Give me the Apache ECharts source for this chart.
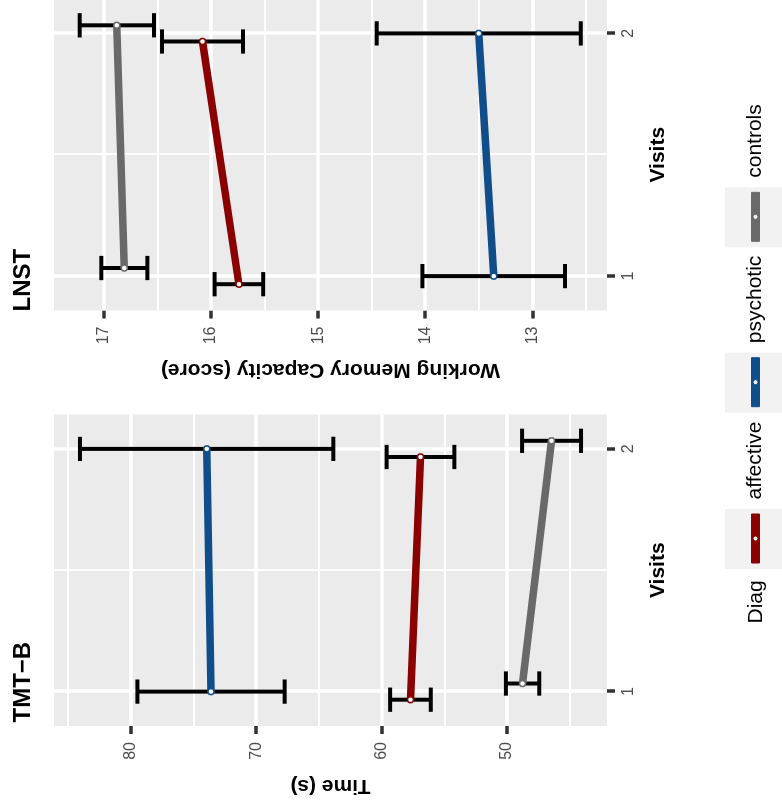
<!DOCTYPE html>
<html>
<head>
<meta charset="utf-8">
<script src="https://cdn.jsdelivr.net/npm/echarts@6/dist/echarts.min.js"></script>
<style>
  html, body { margin: 0; padding: 0; background: #fff; overflow: hidden; width: 782px; height: 808px; }
  /* the figure is laid out landscape and turned a quarter turn counter-clockwise */
  #stage { position: absolute; left: 0; top: 0; width: 808px; height: 782px;
           transform-origin: 0 0; transform: translateY(808px) rotate(-90deg); }
</style>
</head>
<body>
<div id="stage"></div>
<script>
// ---- data ----
const visits = [1, 2];
const diagnoses = ['affective', 'psychotic', 'controls'];
const diagColors = ['#8B0000', '#104E8B', '#696969'];

// TMT-B completion time (s): mean and standard error per visit
const tmtbAffectiveMean = [57.7, 56.9];
const tmtbAffectiveSE   = [1.62, 2.7];
const tmtbPsychoticMean = [73.6, 73.95];
const tmtbPsychoticSE   = [5.87, 10.1];
const tmtbControlsMean  = [48.76, 46.45];
const tmtbControlsSE    = [1.33, 2.35];

// LNST working memory capacity (score): mean and standard error per visit
const lnstAffectiveMean = [15.74, 16.08];
const lnstAffectiveSE   = [0.227, 0.378];
const lnstPsychoticMean = [13.36, 13.50];
const lnstPsychoticSE   = [0.666, 0.953];
const lnstControlsMean  = [16.81, 16.88];
const lnstControlsSE    = [0.215, 0.347];

// axis breaks
const tmtbTicks = [50, 60, 70, 80];
const tmtbMinorTicks = [45, 55, 65, 75, 85];
const lnstTicks = [13, 14, 15, 16, 17];
const lnstMinorTicks = [12.5, 13.5, 14.5, 15.5, 16.5];
const visitMinorTicks = [1.5];

// ---- layout / style ----
const FONT = '"Liberation Sans", Arial, Helvetica, sans-serif';
const dodgeWidth = 0.1;                       // groups spread across this width
const dodge = diagnoses.map((d, i) => (i - 1) * dodgeWidth / 3);
const capWidth = 0.1;                         // error bar cap width, in visit units
const visitRange = [0.8583, 2.1417];

const series = [];

function gridLines(p, major, minor) {
  const items = [];
  minor.forEach(v => items.push({ yAxis: v, lineStyle: { width: 1.8 } }));
  major.forEach(v => items.push({ yAxis: v, lineStyle: { width: 3.5 } }));
  visitMinorTicks.forEach(v => items.push({ xAxis: v, lineStyle: { width: 1.8 } }));
  visits.forEach(v => items.push({ xAxis: v, lineStyle: { width: 3.5 } }));
  series.push({
    type: 'line', xAxisIndex: p, yAxisIndex: p, data: [], silent: true, z: 1,
    markLine: {
      z: 1, silent: true, symbol: ['none', 'none'], animation: false,
      label: { show: false }, emphasis: { disabled: true },
      lineStyle: { color: '#FFFFFF', type: 'solid' },
      data: items
    }
  });
}

function panel(p, means, ses) {
  const bars = [];
  diagnoses.forEach((d, i) => {
    series.push({
      type: 'line', name: d, xAxisIndex: p, yAxisIndex: p, z: 6,
      data: visits.map((v, k) => [v + dodge[i], means[i][k]]),
      symbol: 'circle', symbolSize: 6, showSymbol: true,
      lineStyle: { color: diagColors[i], width: 7.5 },
      itemStyle: { color: '#FFFFFF', borderColor: diagColors[i], borderWidth: 1.5 },
      emphasis: { disabled: true }, silent: true
    });
    visits.forEach((v, k) => {
      bars.push([v + dodge[i], means[i][k] - ses[i][k], means[i][k] + ses[i][k]]);
    });
  });
  series.push({
    type: 'custom', xAxisIndex: p, yAxisIndex: p, z: 5, silent: true,
    dimensions: ['x', 'lo', 'hi'],
    encode: { x: 0, y: [1, 2] },
    data: bars,
    renderItem: function (params, api) {
      const x = api.value(0), lo = api.value(1), hi = api.value(2);
      const a = api.coord([x, lo]);
      const b = api.coord([x, hi]);
      const half = api.coord([x + capWidth / 2, lo])[0] - a[0];
      const st = () => ({ stroke: '#000000', lineWidth: 4, fill: null });
      return {
        type: 'group',
        children: [
          { type: 'line', shape: { x1: a[0], y1: a[1], x2: b[0], y2: b[1] }, style: st() },
          { type: 'line', shape: { x1: a[0] - half, y1: a[1], x2: a[0] + half, y2: a[1] }, style: st() },
          { type: 'line', shape: { x1: b[0] - half, y1: b[1], x2: b[0] + half, y2: b[1] }, style: st() }
        ]
      };
    }
  });
}

gridLines(0, tmtbTicks, tmtbMinorTicks);
gridLines(1, lnstTicks, lnstMinorTicks);
panel(0, [tmtbAffectiveMean, tmtbPsychoticMean, tmtbControlsMean],
         [tmtbAffectiveSE, tmtbPsychoticSE, tmtbControlsSE]);
panel(1, [lnstAffectiveMean, lnstPsychoticMean, lnstControlsMean],
         [lnstAffectiveSE, lnstPsychoticSE, lnstControlsSE]);

function visitAxis(p) {
  return {
    type: 'value', gridIndex: p, min: visitRange[0], max: visitRange[1],
    axisLine: { show: false },
    axisTick: { show: true, length: 8, customValues: visits, lineStyle: { color: '#333333', width: 3.5 } },
    axisLabel: { customValues: visits, margin: 14, fontSize: 16, color: '#4D4D4D', fontFamily: FONT },
    splitLine: { show: false },
    name: 'Visits', nameLocation: 'middle', nameGap: 41,
    nameTextStyle: { fontSize: 21, fontWeight: 'bold', color: '#000000', fontFamily: FONT }
  };
}

function valueAxis(p, min, max, ticks, title) {
  return {
    type: 'value', gridIndex: p, min: min, max: max,
    axisLine: { show: false },
    axisTick: { show: true, length: 8, customValues: ticks, lineStyle: { color: '#333333', width: 3.5 } },
    axisLabel: { customValues: ticks, margin: 16, fontSize: 16, color: '#4D4D4D', fontFamily: FONT },
    splitLine: { show: false },
    name: title, nameLocation: 'middle', nameRotate: 90, nameGap: 49,
    nameTextStyle: { fontSize: 21, fontWeight: 'bold', color: '#000000', fontFamily: FONT }
  };
}

// legend keys: grey key boxes with each series' line
const keyIcon = 'path://M0,0h0.01v0.01h-0.01z M59.99,59.99h0.01v0.01h-0.01z ' +
                'M5.5,26H54.5V34H5.5Z M30,27.5a2.5,2.5 0 1,0 0,5a2.5,2.5 0 1,0 0,-5z';
const keyLeft = [239, 395.3, 560.7];
const keyTop = 725, keySize = 60;

const legends = diagnoses.map((d, i) => ({
  data: [{ name: d, icon: keyIcon, itemStyle: { color: diagColors[i], borderColor: diagColors[i], borderWidth: 1 } }],
  left: keyLeft[i], top: keyTop, padding: 0, orient: 'horizontal',
  itemWidth: keySize, itemHeight: keySize, selectedMode: false, z: 5,
  textStyle: { fontSize: 21, color: '#000000', fontFamily: FONT, padding: [5, 0, 0, 4] }
}));

const chart = echarts.init(document.getElementById('stage'), null, { renderer: 'canvas', width: 808, height: 782 });
chart.setOption({
  animation: false,
  backgroundColor: '#FFFFFF',
  textStyle: { fontFamily: FONT },
  title: [
    { text: 'TMT\u2212B', left: 85.5, top: 11, padding: 0,
      textStyle: { fontSize: 24, fontWeight: 'bold', color: '#000000', fontFamily: FONT } },
    { text: 'LNST', left: 496.5, top: 11, padding: 0,
      textStyle: { fontSize: 24, fontWeight: 'bold', color: '#000000', fontFamily: FONT } }
  ],
  grid: [
    { left: 82, top: 54, width: 311.5, height: 553, show: true, backgroundColor: '#EBEBEB',
      borderWidth: 0, containLabel: false, outerBoundsMode: 'none' },
    { left: 497.5, top: 54, width: 311.5, height: 553, show: true, backgroundColor: '#EBEBEB',
      borderWidth: 0, containLabel: false, outerBoundsMode: 'none' }
  ],
  xAxis: [visitAxis(0), visitAxis(1)],
  yAxis: [
    valueAxis(0, 42.03, 86.12, tmtbTicks, 'Time (s)'),
    valueAxis(1, 12.302, 17.467, lnstTicks, 'Working Memory Capacity (score)')
  ],
  legend: legends,
  graphic: [
    ...keyLeft.map(x => ({
      type: 'rect', z: 1, silent: true,
      shape: { x: x, y: keyTop, width: keySize, height: keySize },
      style: { fill: '#F2F2F2' }
    })),
    { type: 'text', x: 184.5, y: 756, z: 5, silent: true,
      style: { text: 'Diag', fontSize: 21, fill: '#000000', fontFamily: FONT,
               textAlign: 'left', textVerticalAlign: 'middle' } }
  ],
  series: series
});
</script>
</body>
</html>
